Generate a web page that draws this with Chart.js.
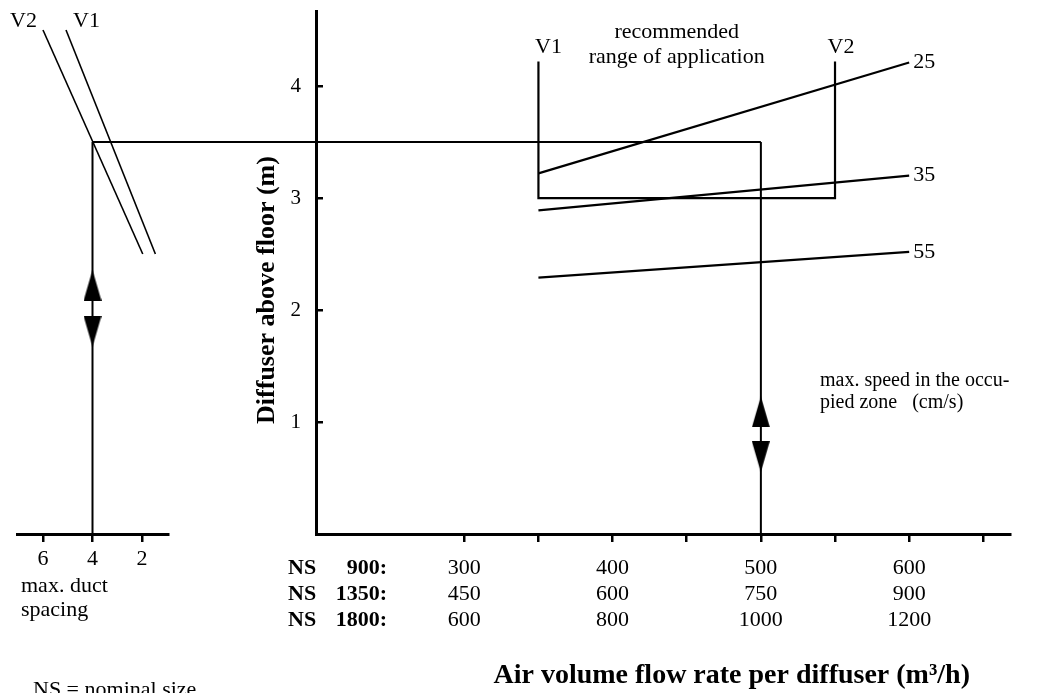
<!DOCTYPE html>
<html lang="en">
<head>
<meta charset="UTF-8">
<title>Diffuser selection chart</title>
<script src="https://cdn.jsdelivr.net/npm/chart.js"></script>
<style>
    body { margin: 0; background: #fff; }
    .stage { position: relative; width: 1053px; height: 693px; }
    .stage canvas { position: absolute; left: 0; top: 0; }
</style>
</head>
<body>
<div class="stage">
    <canvas id="ductChart" width="1053" height="693"></canvas>
    <canvas id="flowChart" width="1053" height="693"></canvas>
</div>
<script>
// flow axis (ticks every 50, labels per nominal size)
const flowTicks = [300, 350, 400, 450, 500, 550, 600, 650];
const flowNS900 = [300, 400, 500, 600];
const flowNS1350 = [450, 600, 750, 900];
const flowNS1800 = [600, 800, 1000, 1200];
const sizeRows = ['900:', '1350:', '1800:'];
const heightTicks = [1, 2, 3, 4];

// max. speed in the occupied zone (cm/s): height at start / end flow
const speedFlow = [350, 600];
const speedNames = ['25', '35', '55'];
const speed25 = [3.22, 4.21];
const speed35 = [2.89, 3.20];
const speed55 = [2.29, 2.52];

// recommended range of application (V1 .. V2)
const rangeFlow = [350, 550];
const rangeHeight = [3.0, 4.22];

// duct spacing side chart
const spacingTicks = [2, 4, 6];
const v2Spacing = [6.0, 1.97];
const v1Spacing = [5.07, 1.46];
const slopeHeight = [4.5, 2.5];

// reading example
const readSpacing = 4;
const readHeight = 3.5;
const readFlow = 500;
const arrowsLeft = [2.22, 1.81];   // up, down
const arrowsMain = [1.09, 0.69];

const serif = "'Liberation Serif', 'Times New Roman', serif";
const black = '#000';

function makeArrow() {
    const c = document.createElement('canvas');
    c.width = 18;
    c.height = 31;
    const g = c.getContext('2d');
    g.fillStyle = black;
    g.beginPath();
    g.moveTo(9, 0);
    g.lineTo(18, 31);
    g.lineTo(0, 31);
    g.closePath();
    g.fill();
    return c;
}
const arrow = makeArrow();

function lineSet(points, width) {
    return { data: points, showLine: true, borderColor: black, borderWidth: width, pointRadius: 0, tension: 0 };
}

function pts(xs, ys) {
    return xs.map((x, i) => ({ x: x, y: ys[i] }));
}

function label(ctx, str, x, y, size, align, bold, baseline) {
    ctx.font = (bold ? 'bold ' : '') + size + 'px ' + serif;
    ctx.textAlign = align || 'left';
    ctx.textBaseline = baseline || 'alphabetic';
    ctx.fillStyle = black;
    ctx.fillText(str, x, y);
}

// no extra room for half-labels at the axis ends
function noEdgePadding(s) {
    s.paddingTop = 0;
    s.paddingBottom = 0;
    s.paddingLeft = 0;
    s.paddingRight = 0;
}

// left: max. duct spacing
const ductChart = new Chart(document.getElementById('ductChart'), {
    type: 'scatter',
    data: {
        datasets: [
            lineSet(pts(v2Spacing, slopeHeight), 1.6),
            lineSet(pts(v1Spacing, slopeHeight), 1.6),
            lineSet([{ x: readSpacing, y: readHeight }, { x: readSpacing, y: 0 }], 2),
            {
                data: arrowsLeft.map(h => ({ x: readSpacing, y: h })),
                pointStyle: arrow,
                pointRotation: [0, 180],
                pointRadius: 9
            }
        ]
    },
    options: {
        responsive: false,
        animation: false,
        events: [],
        layout: { padding: { left: 17, right: 885, top: 11, bottom: 0 } },
        plugins: { legend: { display: false }, tooltip: { enabled: false } },
        scales: {
            x: {
                type: 'linear',
                reverse: true,
                min: 0.95,
                max: 7.05,
                afterBuildTicks: (s) => { s.ticks = spacingTicks.map(v => ({ value: v })); },
                afterFit: (s) => { s.height = 159; noEdgePadding(s); },
                border: { color: black, width: 3 },
                grid: { drawOnChartArea: false, tickLength: 8, color: black, lineWidth: 2.5 },
                ticks: { color: black, font: { family: serif, size: 22 }, padding: 4, maxRotation: 0, autoSkip: false }
            },
            y: { display: false, min: 0, max: 4.67 }
        }
    },
    plugins: [{
        id: 'ductNotes',
        afterDraw(chart) {
            const { ctx, chartArea } = chart;
            const x = chart.scales.x, y = chart.scales.y;
            ctx.save();
            const topY = y.getPixelForValue(slopeHeight[0]) - 3;
            label(ctx, 'V2', x.getPixelForValue(v2Spacing[0]) - 6, topY, 22, 'right');
            label(ctx, 'V1', x.getPixelForValue(v1Spacing[0]) + 7, topY, 22, 'left');
            label(ctx, 'max. duct', chartArea.left + 4, x.top + 58, 22);
            label(ctx, 'spacing', chartArea.left + 4, x.top + 82, 22);
            label(ctx, 'NS = nominal size', chartArea.left + 16, x.top + 162, 22);
            ctx.restore();
        }
    }]
});

// right: diffuser height vs air volume flow rate
new Chart(document.getElementById('flowChart'), {
    type: 'scatter',
    data: {
        datasets: [
            lineSet(pts(speedFlow, speed25), 2.2),
            lineSet(pts(speedFlow, speed35), 2.2),
            lineSet(pts(speedFlow, speed55), 2.2),
            lineSet([
                { x: rangeFlow[0], y: rangeHeight[1] },
                { x: rangeFlow[0], y: rangeHeight[0] },
                { x: rangeFlow[1], y: rangeHeight[0] },
                { x: rangeFlow[1], y: rangeHeight[1] }
            ], 2.2),
            lineSet([{ x: readFlow, y: readHeight }, { x: readFlow, y: 0 }], 2),
            {
                data: arrowsMain.map(h => ({ x: readFlow, y: h })),
                pointStyle: arrow,
                pointRotation: [0, 180],
                pointRadius: 9
            }
        ]
    },
    options: {
        responsive: false,
        animation: false,
        events: [],
        layout: { padding: { left: 236, right: 43, top: 11, bottom: 0 } },
        plugins: { legend: { display: false }, tooltip: { enabled: false } },
        scales: {
            x: {
                type: 'linear',
                min: 200,
                max: 668,
                afterBuildTicks: (s) => { s.ticks = flowTicks.map(v => ({ value: v })); },
                afterFit: (s) => { s.height = 159; noEdgePadding(s); },
                border: { color: black, width: 3 },
                grid: { drawOnChartArea: false, tickLength: 8, color: black, lineWidth: 2.5 },
                ticks: {
                    color: black,
                    font: { family: serif, size: 22, lineHeight: 1.18 },
                    padding: 13,
                    maxRotation: 0,
                    autoSkip: false,
                    callback: (value) => {
                        const i = flowNS900.indexOf(value);
                        if (i < 0) return '';
                        return [String(flowNS900[i]), String(flowNS1350[i]), String(flowNS1800[i])];
                    }
                }
            },
            y: {
                type: 'linear',
                min: 0,
                max: 4.67,
                afterBuildTicks: (s) => { s.ticks = heightTicks.map(v => ({ value: v })); },
                afterFit: (s) => { s.width = 80; noEdgePadding(s); },
                border: { color: black, width: 3 },
                grid: { drawOnChartArea: false, tickLength: -7, color: black, lineWidth: 2.5 },
                ticks: { color: black, font: { family: serif, size: 21 }, padding: 22 }
            }
        }
    },
    plugins: [{
        id: 'flowNotes',
        beforeDatasetsDraw(chart) {
            // reading line carried over from the duct spacing scale
            const { ctx } = chart;
            const x = chart.scales.x, y = chart.scales.y;
            const yy = y.getPixelForValue(readHeight);
            ctx.save();
            ctx.strokeStyle = black;
            ctx.lineWidth = 2;
            ctx.beginPath();
            ctx.moveTo(ductChart.scales.x.getPixelForValue(readSpacing), yy);
            ctx.lineTo(x.getPixelForValue(readFlow), yy);
            ctx.stroke();
            ctx.restore();
        },
        afterDraw(chart) {
            const { ctx, chartArea } = chart;
            const x = chart.scales.x, y = chart.scales.y;
            ctx.save();

            [speed25, speed35, speed55].forEach((s, i) => {
                label(ctx, speedNames[i], x.getPixelForValue(speedFlow[1]) + 4, y.getPixelForValue(s[1]), 22, 'left', false, 'middle');
            });

            const boxTop = y.getPixelForValue(rangeHeight[1]);
            label(ctx, 'V1', x.getPixelForValue(rangeFlow[0]) + 10, boxTop - 8, 22, 'center');
            label(ctx, 'V2', x.getPixelForValue(rangeFlow[1]) + 6, boxTop - 8, 22, 'center');
            const mid = (x.getPixelForValue(rangeFlow[0]) + x.getPixelForValue(rangeFlow[1])) / 2 - 10;
            label(ctx, 'recommended', mid, boxTop - 23, 22, 'center');
            label(ctx, 'range of application', mid, boxTop + 2, 22, 'center');

            const noteX = x.getPixelForValue(rangeFlow[1]) - 15;
            const noteY = y.getPixelForValue(1.32);
            label(ctx, 'max. speed in the occu-', noteX, noteY, 20);
            label(ctx, 'pied zone   (cm/s)', noteX, noteY + 22, 20);

            // nominal size rows, level with the tick label lines
            const rowTop = x.top + 8 + 13;
            sizeRows.forEach((s, i) => {
                const ry = rowTop + 26 * i + 13;
                label(ctx, 'NS', chartArea.left - 28, ry, 22, 'left', true, 'middle');
                label(ctx, s, chartArea.left + 71, ry, 22, 'right', true, 'middle');
            });

            label(ctx, 'Air volume flow rate per diffuser (m\u00b3/h)', chartArea.right - 40, x.bottom - 10, 28, 'right', true);

            ctx.translate(chartArea.left - 49, 290);
            ctx.rotate(-Math.PI / 2);
            label(ctx, 'Diffuser above floor (m)', 0, 0, 26, 'center', true, 'middle');
            ctx.restore();
        }
    }]
});
</script>
</body>
</html>
